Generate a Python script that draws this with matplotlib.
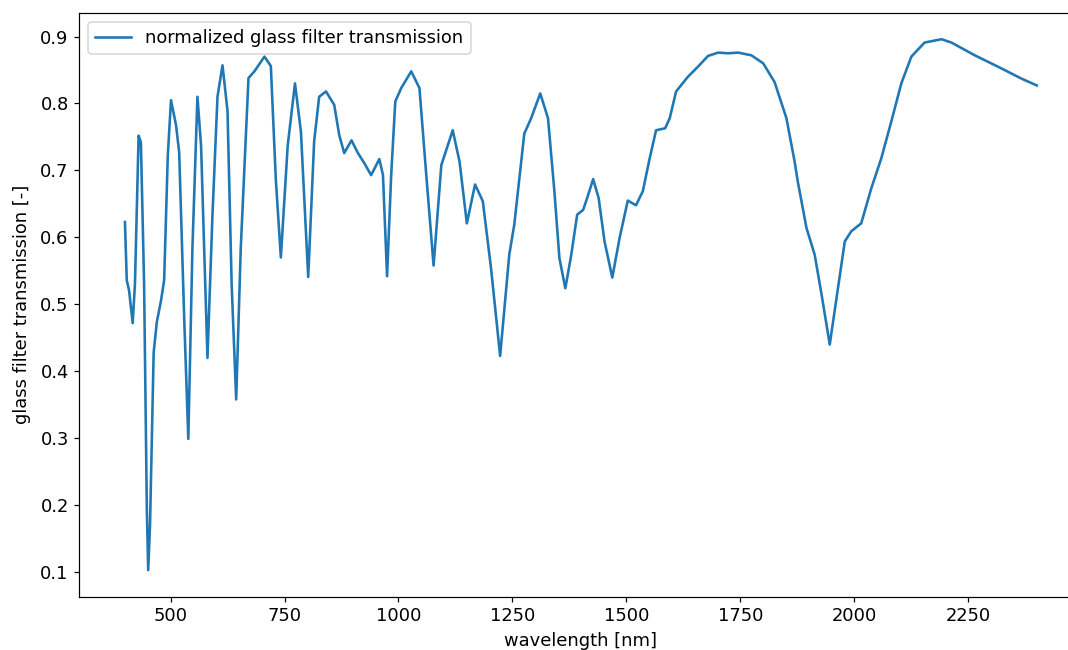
import matplotlib
matplotlib.use("Agg")
import matplotlib.pyplot as plt


# ------------------------------------------------------------
# DATA
# ------------------------------------------------------------

wavelength = [
    400, 404, 409, 417, 422, 430, 435, 442, 448, 451, 455, 463, 470, 479,
    486, 494, 501, 512, 519, 530, 539, 548, 559, 567, 581, 592, 603, 614,
    625, 634, 644, 654, 671, 684, 706, 720, 731, 742, 757, 773, 786, 802,
    815, 826, 841, 859, 870, 881, 897, 911, 925, 940, 958, 966, 975, 984,
    993, 1006, 1028, 1046, 1061, 1077, 1094, 1119, 1134, 1150, 1168, 1185,
    1203, 1223, 1243, 1254, 1276, 1291, 1311, 1328, 1342, 1353, 1366, 1379,
    1392, 1405, 1414, 1427, 1439, 1452, 1469, 1485, 1503, 1521, 1536, 1551,
    1565, 1585, 1595, 1609, 1635, 1657, 1679, 1701, 1723, 1745, 1774, 1800,
    1825, 1851, 1869, 1876, 1895, 1913, 1928, 1946, 1964, 1979, 1993, 2015,
    2037, 2059, 2081, 2103, 2125, 2154, 2191, 2213, 2264, 2315, 2367, 2400,
]

transmission = [
    0.623, 0.536, 0.521, 0.472, 0.531, 0.752, 0.742, 0.531, 0.196, 0.103,
    0.170, 0.428, 0.474, 0.505, 0.536, 0.722, 0.805, 0.768, 0.727, 0.479,
    0.299, 0.583, 0.810, 0.737, 0.420, 0.634, 0.810, 0.857, 0.789, 0.531,
    0.358, 0.583, 0.838, 0.848, 0.870, 0.856, 0.686, 0.570, 0.737, 0.830,
    0.758, 0.541, 0.743, 0.810, 0.818, 0.798, 0.753, 0.726, 0.745, 0.726,
    0.711, 0.693, 0.717, 0.693, 0.542, 0.693, 0.803, 0.823, 0.848, 0.823,
    0.693, 0.558, 0.708, 0.760, 0.713, 0.621, 0.679, 0.654, 0.554, 0.423,
    0.574, 0.619, 0.755, 0.778, 0.815, 0.778, 0.669, 0.569, 0.524, 0.574,
    0.634, 0.641, 0.659, 0.687, 0.659, 0.594, 0.540, 0.599, 0.655, 0.648,
    0.669, 0.718, 0.760, 0.763, 0.778, 0.818, 0.840, 0.855, 0.871, 0.876,
    0.875, 0.876, 0.872, 0.860, 0.832, 0.778, 0.713, 0.683, 0.614, 0.574,
    0.515, 0.440, 0.524, 0.594, 0.609, 0.621, 0.673, 0.718, 0.773, 0.830,
    0.870, 0.891, 0.896, 0.891, 0.872, 0.855, 0.837, 0.827,
]

# the 2500 tick sits past the cropped right edge in the reference
xticks = [500, 750, 1000, 1250, 1500, 1750, 2000, 2250]


# ------------------------------------------------------------
# PLOTTING
# ------------------------------------------------------------

dpi = 110
plt.rcParams["font.size"] = 11.7

fig = plt.figure(figsize=(1068 / dpi, 650 / dpi), dpi=dpi)

# reference is a cropped screenshot: right spine runs off the edge
ax = fig.add_axes([0.0743, 0.0820, 0.9391, 0.8985])
ax.spines["right"].set_visible(False)

ax.plot(wavelength, transmission, linewidth=1.7,
        label="normalized glass filter transmission")
ax.set_xticks(xticks)
ax.set_xlabel("wavelength [nm]")
ax.set_ylabel("glass filter transmission [-]", labelpad=6)
ax.legend(loc="upper left")

fig.savefig("out.png", dpi=dpi)
